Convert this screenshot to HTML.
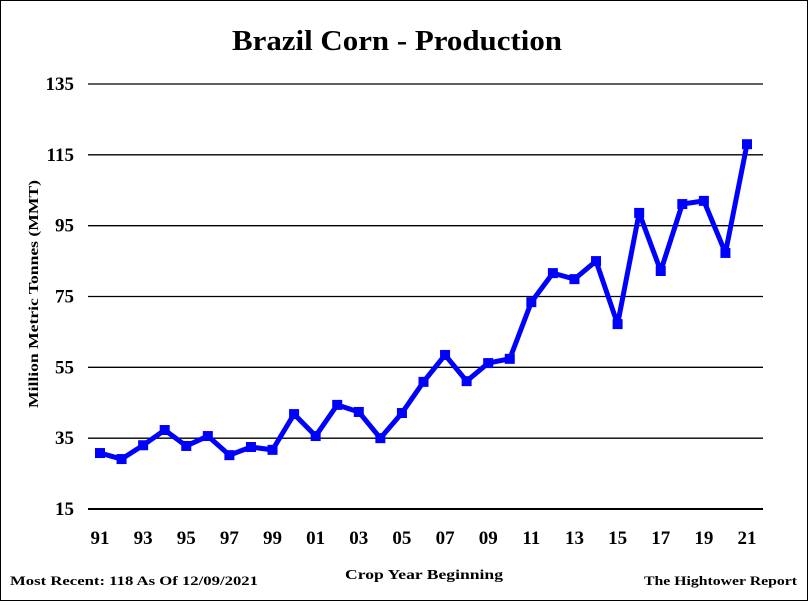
<!DOCTYPE html>
<html><head><meta charset="utf-8"><style>
body{margin:0;background:#fff}
svg text{font-family:"Liberation Serif",serif;font-weight:bold;fill:#000}
</style></head><body>
<svg id="chart" width="808" height="601">
<rect x="0.5" y="0.5" width="807" height="600" fill="#fff" stroke="#000"/>
<text x="232" y="50" font-size="28" textLength="330" lengthAdjust="spacingAndGlyphs">Brazil Corn - Production</text>
<text transform="translate(38,408) rotate(-90)" font-size="14" textLength="228" lengthAdjust="spacingAndGlyphs">Million Metric Tonnes (MMT)</text>
<text x="345" y="579" font-size="14" textLength="158" lengthAdjust="spacingAndGlyphs">Crop Year Beginning</text>
<text x="10" y="585" font-size="13" textLength="248" lengthAdjust="spacingAndGlyphs">Most Recent: 118 As Of 12/09/2021</text>
<text x="644" y="585" font-size="13" textLength="153" lengthAdjust="spacingAndGlyphs">The Hightower Report</text>
<g id="grid"></g><g id="series"></g>
</svg>
<script>
const years=["91","92","93","94","95","96","97","98","99","00","01","02","03","04","05","06","07","08","09","10","11","12","13","14","15","16","17","18","19","20","21"];
const production=[30.8,29.1,33,37.3,32.8,35.6,30.2,32.5,31.7,41.8,35.6,44.4,42.4,35,42.1,50.9,58.5,51.1,56.2,57.4,73.4,81.6,79.9,85,67.2,98.6,82.2,101.1,102,87.3,118];
const yTicks=[15,35,55,75,95,115,135];
const NS="http://www.w3.org/2000/svg";
const xS=i=>100+i*(647/30);
const yS=v=>509-(v-15)*(425/120);
const grid=document.getElementById('grid'),ser=document.getElementById('series');
function mk(tag,attrs,parent){const e=document.createElementNS(NS,tag);for(const k in attrs)e.setAttribute(k,attrs[k]);parent.appendChild(e);return e;}
yTicks.forEach(t=>{
 const l=mk('line',{x1:88,x2:763,y1:yS(t),y2:yS(t),stroke:'#000','stroke-width':t===15?2:1.3},grid);
 
 
 const tx=mk('text',{x:74,y:yS(t)+6,'font-size':19,'text-anchor':'end'},grid);tx.textContent=t;
 
 
});
years.forEach((y,i)=>{
 if(i%2)return;
 const tx=mk('text',{x:xS(i),y:544,'font-size':19,'text-anchor':'middle'},grid);tx.textContent=y;
 
 
});
const pts=production.map((v,i)=>xS(i)+','+yS(v)).join(' ');
const pl=mk('polyline',{points:pts,fill:'none',stroke:'#0000ff','stroke-width':5,'stroke-linejoin':'round'},ser);


production.forEach((v,i)=>{
 const r=mk('rect',{x:xS(i)-5,y:yS(v)-5,width:10,height:10,fill:'#0000ff'},ser);
 
 
});
</script>
</body></html>
